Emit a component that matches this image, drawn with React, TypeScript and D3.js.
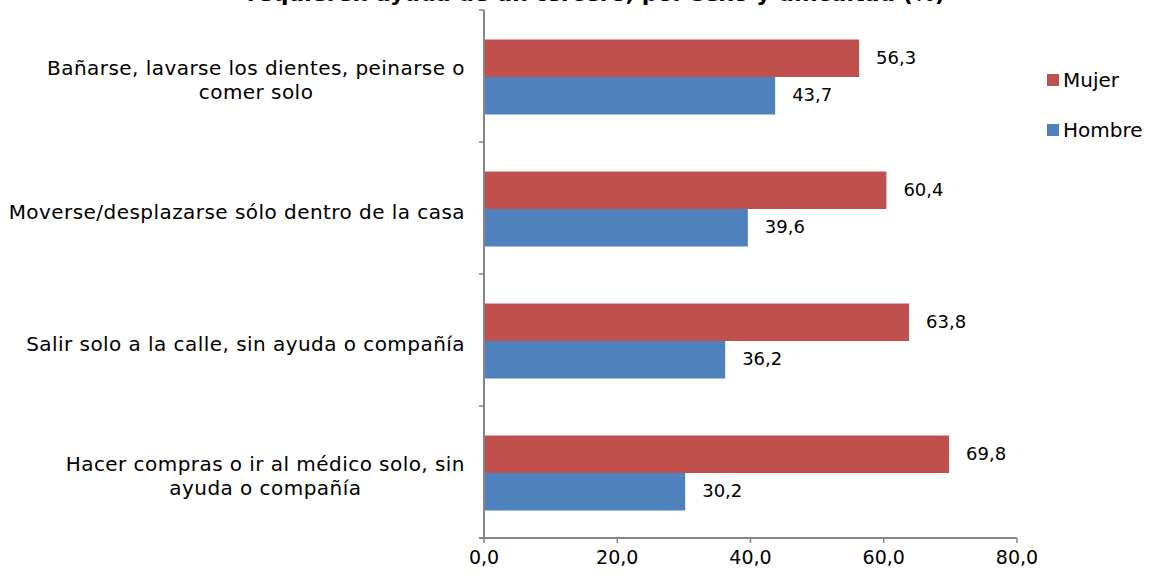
import React, { useEffect, useRef } from 'react';
import * as d3 from 'd3';

const categories = [
    "Bañarse, lavarse los dientes, peinarse o\ncomer solo",
    "Moverse/desplazarse sólo dentro de la casa",
    "Salir solo a la calle, sin ayuda o compañía",
    "Hacer compras o ir al médico solo, sin\nayuda o compañía"
];
const mujer = [56.3, 60.4, 63.8, 69.8];
const hombre = [43.7, 39.6, 36.2, 30.2];
const seriesNames = ["Mujer", "Hombre"];
const seriesColors = ["#C0504D", "#4F81BD"];
const xTicks = [0, 20, 40, 60, 80];
const title = "requieren ayuda de un tercero, por sexo y dificultad (%)";

const W = 1149;
const H = 578;
const FONT = "'DejaVu Sans', Verdana, sans-serif";

export default function App() {
    const ref = useRef<SVGSVGElement>(null);

    useEffect(() => {
        const svg = d3.select(ref.current);
        svg.selectAll('*').remove();

        const left = 484, right = 1017, top = 10, bottom = 538;
        const fmt = (v: number) => v.toFixed(1).replace('.', ',');

        const x = d3.scaleLinear().domain([0, 80]).range([left, right]);
        const y = d3.scaleBand<number>().domain(d3.range(categories.length)).range([top, bottom]);
        const inner = d3.scaleBand<number>().domain([0, 1]).range([0, y.bandwidth()]).paddingOuter(0.76);

        // title (cut at top of the picture)
        svg.append('text')
            .attr('x', 596).attr('y', 1)
            .attr('text-anchor', 'middle')
            .style('font-family', FONT).style('font-weight', 'bold').style('font-size', '22px')
            .attr('fill', '#000')
            .text(title);

        const series = [mujer, hombre];
        series.forEach((vals, s) => {
            svg.append('g').selectAll('rect')
                .data(vals)
                .enter()
                .append('rect')
                .attr('x', x(0))
                .attr('y', (d, i) => (y(i) as number) + (inner(s) as number) + 1)
                .attr('width', d => x(d) - x(0))
                .attr('height', inner.bandwidth())
                .attr('fill', seriesColors[s]);

            svg.append('g').selectAll('text')
                .data(vals)
                .enter()
                .append('text')
                .attr('x', d => x(d) + 17)
                .attr('y', (d, i) => (y(i) as number) + (inner(s) as number) + inner.bandwidth() / 2)
                .attr('dy', '0.35em')
                .style('font-family', FONT).style('font-size', '18px')
                .attr('fill', '#000')
                .text(d => fmt(d));
        });

        // y axis
        const axisColor = '#868686';
        svg.append('line')
            .attr('x1', left).attr('x2', left).attr('y1', top).attr('y2', bottom)
            .attr('stroke', axisColor).attr('stroke-width', 2);
        svg.append('g').selectAll('line')
            .data(d3.range(categories.length + 1))
            .enter()
            .append('line')
            .attr('x1', left - 5).attr('x2', left)
            .attr('y1', i => i < categories.length ? (y(i) as number) : bottom)
            .attr('y2', i => i < categories.length ? (y(i) as number) : bottom)
            .attr('stroke', axisColor).attr('stroke-width', 1.5);

        // category labels, right-aligned block with centred lines
        const labels = svg.append('g').selectAll('text')
            .data(categories)
            .enter()
            .append('text')
            .attr('text-anchor', 'middle')
            .style('font-family', FONT).style('font-size', '20px')
            .style('letter-spacing', '0.45px')
            .attr('fill', '#000');
        labels.each(function (d, i) {
            const lines = d.split('\n');
            const cy = (y(i) as number) + y.bandwidth() / 2 + 4;
            const lh = 24;
            const t = d3.select(this);
            lines.forEach((l, k) => {
                t.append('tspan')
                    .attr('x', 0)
                    .attr('y', cy + (k - (lines.length - 1) / 2) * lh)
                    .attr('dy', '0.35em')
                    .text(l);
            });
        });
        labels.each(function () {
            const node = this as SVGTextElement;
            const bb = node.getBBox();
            d3.select(node).selectAll('tspan').attr('x', 465 - bb.width / 2);
        });

        // x axis
        svg.append('line')
            .attr('x1', left - 5).attr('x2', right).attr('y1', bottom).attr('y2', bottom)
            .attr('stroke', axisColor).attr('stroke-width', 2);
        svg.append('g').selectAll('line')
            .data(xTicks)
            .enter()
            .append('line')
            .attr('x1', d => x(d)).attr('x2', d => x(d))
            .attr('y1', bottom).attr('y2', bottom + 5)
            .attr('stroke', axisColor).attr('stroke-width', 1.5);
        svg.append('g').selectAll('text')
            .data(xTicks)
            .enter()
            .append('text')
            .attr('x', d => x(d))
            .attr('y', 557)
            .attr('dy', '0.35em')
            .attr('text-anchor', 'middle')
            .style('font-family', FONT).style('font-size', '19px')
            .attr('fill', '#000')
            .text(d => fmt(d));

        // legend
        const legend = svg.append('g').selectAll('g')
            .data(seriesNames)
            .enter()
            .append('g')
            .attr('transform', (d, i) => `translate(1047, ${80 + i * 50})`);
        legend.append('rect')
            .attr('x', 0).attr('y', -6).attr('width', 12).attr('height', 12)
            .attr('fill', (d, i) => seriesColors[i]);
        legend.append('text')
            .attr('x', 16).attr('y', 0).attr('dy', '0.35em')
            .style('font-family', FONT).style('font-size', '20px')
            .attr('fill', '#000')
            .text(d => d);
    }, []);

    return (
        <svg ref={ref} width={W} height={H}
            style={{ position: 'absolute', left: 0, top: 0, background: '#fff' }} />
    );
}
